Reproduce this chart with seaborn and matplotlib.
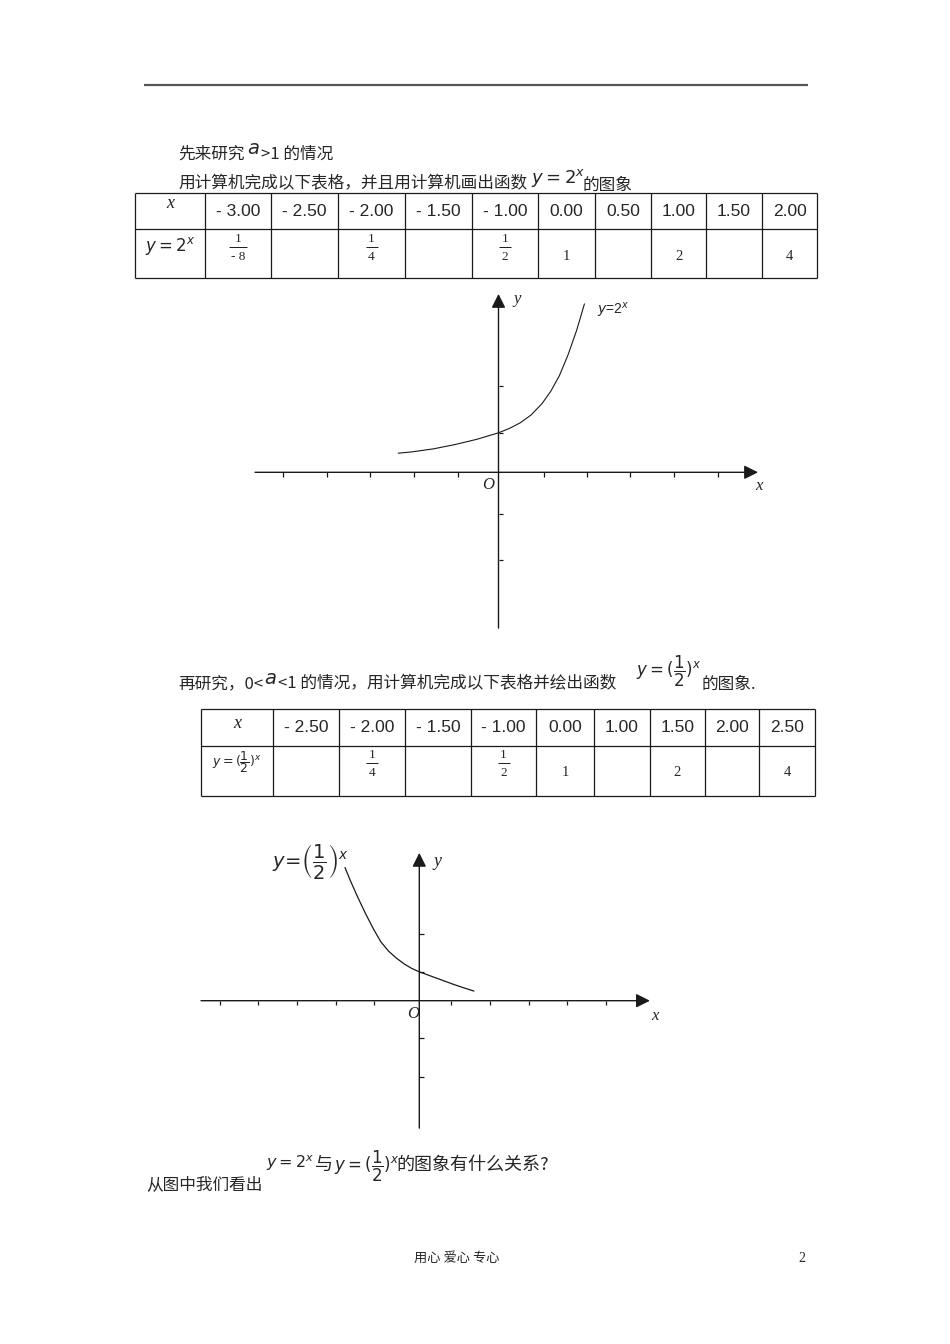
import numpy as np
import pandas as pd
import seaborn as sns
import matplotlib.pyplot as plt

# table 1: y = 2^x
t1_x = ['- 3.00', '- 2.50', '- 2.00', '- 1.50', '- 1.00', '0.00', '0.50', '1.00', '1.50', '2.00']
t1_y = [('1', '- 8'), '', ('1', '4'), '', ('1', '2'), '1', '', '2', '', '4']

# table 2: y = (1/2)^x
t2_x = ['- 2.50', '- 2.00', '- 1.50', '- 1.00', '0.00', '1.00', '1.50', '2.00', '2.50']
t2_y = ['', ('1', '4'), '', ('1', '2'), '1', '', '2', '', '4']

# curve points (axis units)
c1_x = [-2.31, -2.0, -1.5, -1.0, -0.5, 0.0, 0.25, 0.5, 0.75, 1.0, 1.2, 1.4, 1.6, 1.8, 1.98]
c1_y = [0.44, 0.47, 0.54, 0.64, 0.76, 0.91, 1.01, 1.14, 1.32, 1.58, 1.86, 2.22, 2.70, 3.27, 3.88]
c2_x = [-1.93, -1.8, -1.6, -1.4, -1.2, -1.0, -0.8, -0.6, -0.4, -0.2, 0.0, 0.3, 0.6, 0.9, 1.2, 1.42]
c2_y = [3.46, 3.14, 2.69, 2.27, 1.88, 1.53, 1.29, 1.11, 0.96, 0.84, 0.75, 0.64, 0.53, 0.42, 0.32, 0.25]

# tick marks on the axes
g1_xticks = [-4.96, -3.95, -2.96, -1.95, -0.93, 1.05, 2.03, 3.04, 4.04, 5.06]
g1_yticks = [1.99, 0.91, -0.95, -2.02]
g2_xticks = [-5.17, -4.18, -3.18, -2.17, -1.18, 0.82, 1.83, 2.84, 3.84, 4.85]
g2_yticks = [1.73, 0.75, -0.97, -1.97]

sns.set_theme(style='white')
CJK = ['Noto Sans CJK SC', 'DejaVu Sans']
NUM = ['Liberation Sans', 'DejaVu Sans']
SERIF = ['Liberation Serif', 'DejaVu Serif']
plt.rcParams['font.family'] = CJK
plt.rcParams['mathtext.fontset'] = 'dejavusans'

W, H = 950, 1344
fig = plt.figure(figsize=(W / 100, H / 100), dpi=100)
fig.patch.set_facecolor('white')

page = fig.add_axes([0, 0, 1, 1])
page.set_xlim(0, W)
page.set_ylim(H, 0)
page.axis('off')

INK = '#1a1a1a'

# header rule
page.hlines(85, 144, 808, color='#555555', lw=1.6)

# first paragraph
page.text(178, 154, '先来研究', fontsize=12, va='center', family=CJK)
page.text(247, 149, '$a$', fontsize=14, va='center')
page.text(261, 154, '>1 的情况', fontsize=12, va='center', family=CJK)
page.text(178, 184, '用计算机完成以下表格，并且用计算机画出函数', fontsize=12, va='center', family=CJK)
page.text(531, 178, '$y=2^x$', fontsize=13, va='center')
page.text(583, 185, '的图象', fontsize=12, va='center', family=CJK)


def frac(cx, cy, num, den, size=9.5):
    page.text(cx, cy - 8, num, fontsize=size, ha='center', va='center', family=SERIF)
    half = 6 if len(den) == 1 else 9
    page.hlines(cy, cx - half, cx + half, color=INK, lw=0.7)
    page.text(cx, cy + 10, den, fontsize=size, ha='center', va='center', family=SERIF)


def draw_table(cols, rows, xs, ys, head, label, label_size, head_y, frac_y, val_y):
    page.vlines(cols, rows[0], rows[-1], color=INK, lw=0.9)
    page.hlines(rows, cols[0], cols[-1], color=INK, lw=0.9)
    centers = [(a + b) / 2 for a, b in zip(cols[:-1], cols[1:])]
    page.text(centers[0], head_y, head, fontsize=13, ha='center', va='center',
              family=SERIF, style='italic')
    page.text(centers[0], val_y - 10, label, fontsize=label_size, ha='center', va='center')
    for cx, v in zip(centers[1:], xs):
        page.text(cx, (rows[0] + rows[1]) / 2, v, fontsize=12.5, ha='center', va='center', family=NUM)
    for cx, v in zip(centers[1:], ys):
        if isinstance(v, tuple):
            frac(cx, frac_y, v[0], v[1])
        elif v:
            page.text(cx, val_y, v, fontsize=10.5, ha='center', va='center', family=SERIF)


draw_table([135, 205, 271, 338, 405, 472, 538, 595, 651, 706, 762, 817], [193, 229, 278],
           t1_x, t1_y, 'x', '$y=2^x$', 12, 204, 247, 256)


def graph(origin, unit, xr, yr):
    ox, oy = origin
    left, right = ox + xr[0] * unit, ox + xr[1] * unit
    top, bottom = oy - yr[1] * unit, oy - yr[0] * unit
    ax = fig.add_axes([left / W, 1 - bottom / H, (right - left) / W, (bottom - top) / H])
    ax.set_xlim(xr)
    ax.set_ylim(yr)
    ax.axis('off')
    ax.patch.set_alpha(0)
    arrow = dict(arrowstyle='-|>,head_length=0.6,head_width=0.3', color=INK, lw=1.0,
                 shrinkA=0, shrinkB=0, mutation_scale=14)
    ax.annotate('', xy=(xr[1], 0), xytext=(xr[0], 0), arrowprops=arrow, annotation_clip=False)
    ax.annotate('', xy=(0, yr[1]), xytext=(0, yr[0]), arrowprops=arrow, annotation_clip=False)
    return ax, 4.5 / unit


# graph 1
ax1, tl = graph((498.5, 472.3), 43.4, (-5.61, 5.98), (-3.59, 4.11))
ax1.vlines(g1_xticks, -tl, 0, color=INK, lw=0.9)
ax1.hlines(g1_yticks, 0, tl, color=INK, lw=0.9)
sns.lineplot(x=c1_x, y=c1_y, ax=ax1, color=INK, linewidth=0.8, sort=False, estimator=None)
page.text(513, 299, 'y', fontsize=12, va='center', family=SERIF, style='italic')
page.text(597, 311, '$y$=2$^x$', fontsize=10, va='center', family=NUM)
page.text(488, 485, 'O', fontsize=12, ha='center', va='center', family=SERIF, style='italic')
page.text(759, 486, 'x', fontsize=12, ha='center', va='center', family=SERIF, style='italic')

# second paragraph
page.text(178, 684, '再研究，0<', fontsize=12, va='center', family=CJK)
page.text(264, 679, '$a$', fontsize=14, va='center')
page.text(278, 684, '<1 的情况，用计算机完成以下表格并绘出函数', fontsize=12, va='center', family=CJK)
page.text(636, 671, '$y=(\\dfrac{1}{2})^x$', fontsize=12, va='center')
page.text(702, 684, '的图象.', fontsize=12, va='center', family=CJK)

draw_table([201, 273, 339, 405, 471, 536, 594, 650, 705, 759, 815], [709, 746, 796],
           t2_x, t2_y, 'x', '$y=(\\dfrac{1}{2})^x$', 9, 724, 763, 772)

# graph 2
ax2, tl = graph((419.3, 1000.7), 38.5, (-5.67, 5.99), (-3.31, 3.84))
ax2.vlines(g2_xticks, -tl, 0, color=INK, lw=0.9)
ax2.hlines(g2_yticks, 0, tl, color=INK, lw=0.9)
sns.lineplot(x=c2_x, y=c2_y, ax=ax2, color=INK, linewidth=0.9, sort=False, estimator=None)
page.text(310, 861, '$y\\!=\\!\\left(\\dfrac{1}{2}\\right)^x$', fontsize=14, ha='center', va='center')
page.text(437, 861, 'y', fontsize=13, ha='center', va='center', family=SERIF, style='italic')
page.text(413, 1014, 'O', fontsize=12, ha='center', va='center', family=SERIF, style='italic')
page.text(655, 1016, 'x', fontsize=12, ha='center', va='center', family=SERIF, style='italic')

# closing question
page.text(146, 1185, '从图中我们看出', fontsize=12, va='center', family=CJK)
page.text(266, 1163, '$y=2^x$', fontsize=11.5, va='center')
page.text(315, 1165, '与', fontsize=13, va='center', family=CJK)
page.text(334, 1166, '$y=(\\dfrac{1}{2})^x$', fontsize=12, va='center')
page.text(396, 1165, '的图象有什么关系?', fontsize=13, va='center', family=CJK)

# footer
page.text(414, 1258, '用心 爱心 专心', fontsize=9.5, va='center', family=CJK)
page.text(802, 1258, '2', fontsize=10, ha='center', va='center', family=SERIF)

fig.savefig('out.png', dpi=100, facecolor='white')
